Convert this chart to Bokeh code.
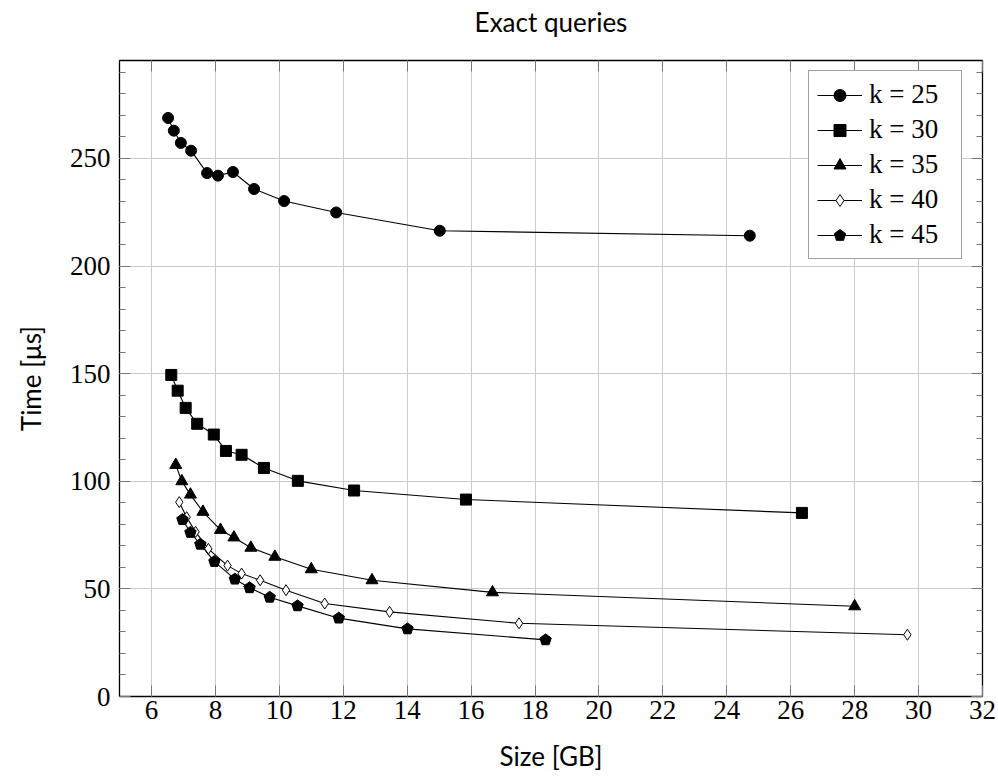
import math
from bokeh.plotting import figure
from bokeh.models import (LinearAxis, FixedTicker, Range1d, Legend, LegendItem,
                          CustomJSTickFormatter, ColumnDataSource, Title)
from bokeh.embed import file_html
from bokeh.resources import INLINE

try:
    from bokeh.models import Ngon
    HAS_NGON = True
except ImportError:
    HAS_NGON = False

# ---------------- data ----------------
title_text = "Exact queries"
x_label = "Size [GB]"
y_label = "Time [μs]"
series_labels = ["k = 25", "k = 30", "k = 35", "k = 40", "k = 45"]
x_ticks = [6, 8, 10, 12, 14, 16, 18, 20, 22, 24, 26, 28, 30, 32]
y_ticks = [0, 50, 100, 150, 200, 250]

size_k25 = [6.52, 6.70, 6.92, 7.24, 7.74, 8.08, 8.55, 9.21, 10.15, 11.78, 15.02, 24.72]
time_k25 = [268.8, 262.9, 257.2, 253.6, 243.2, 242.0, 243.7, 235.8, 230.2, 224.9, 216.4, 214.1]

size_k30 = [6.62, 6.82, 7.07, 7.43, 7.95, 8.33, 8.82, 9.52, 10.58, 12.34, 15.84, 26.35]
time_k30 = [149.4, 142.1, 134.1, 126.7, 121.7, 114.1, 112.3, 106.2, 100.2, 95.7, 91.5, 85.3]

size_k35 = [6.76, 6.95, 7.22, 7.61, 8.16, 8.58, 9.11, 9.86, 11.00, 12.90, 16.67, 28.00]
time_k35 = [107.6, 100.0, 93.8, 85.8, 77.4, 73.9, 69.1, 64.9, 59.1, 54.0, 48.4, 41.9]

size_k40 = [6.87, 7.10, 7.38, 7.78, 8.38, 8.82, 9.40, 10.21, 11.42, 13.45, 17.50, 29.65]
time_k40 = [90.3, 83.3, 76.5, 68.6, 60.8, 57.1, 54.0, 49.4, 43.2, 39.3, 34.0, 28.7]

size_k45 = [6.97, 7.22, 7.53, 7.97, 8.61, 9.07, 9.70, 10.57, 11.86, 14.01, 18.33]
time_k45 = [82.2, 76.2, 70.7, 62.7, 54.5, 50.5, 46.1, 42.1, 36.4, 31.4, 26.3]

x_min, x_max = 5, 32
y_min, y_max = 0, 295.5

# ---------------- figure ----------------
SANS = "Lato"
SERIF = "Liberation Serif"

p = figure(width=998, height=781, output_backend="svg", toolbar_location=None,
           x_range=Range1d(x_min, x_max), y_range=Range1d(y_min, y_max),
           min_border_left=119, min_border_right=16, min_border_top=60,
           min_border_bottom=85, background_fill_color="white",
           border_fill_color="white")

p.outline_line_color = "black"
p.outline_line_width = 1.3

p.title.text = title_text
p.title.align = "center"
p.title.text_font = SANS
p.title.text_font_size = "26px"
p.title.text_font_style = "normal"
p.title.text_color = "black"
p.title.standoff = 0

TICK_COLOR = "#777777"

def style_axis(ax, show_labels):
    ax.axis_line_color = None
    ax.major_tick_in = 11
    ax.major_tick_out = 0
    ax.minor_tick_in = 6
    ax.minor_tick_out = 0
    ax.major_tick_line_color = TICK_COLOR
    ax.minor_tick_line_color = TICK_COLOR
    ax.major_label_text_font = SERIF
    ax.major_label_text_font_size = "27px"
    ax.major_label_text_color = "black"
    ax.axis_label_text_font = SANS
    ax.axis_label_text_font_size = "26px"
    ax.axis_label_text_font_style = "normal"
    ax.axis_label_text_color = "black"
    if not show_labels:
        ax.formatter = CustomJSTickFormatter(code="return ''")
        ax.major_label_standoff = 0

xticker = FixedTicker(ticks=x_ticks, minor_ticks=[])
yticker = FixedTicker(ticks=y_ticks, minor_ticks=list(range(0, 300, 10)))

xa = p.xaxis[0]
xa.ticker = xticker
xa.axis_label = x_label
xa.major_label_standoff = 4
xa.axis_label_standoff = 18
style_axis(xa, True)

ya = p.yaxis[0]
ya.ticker = yticker
ya.axis_label = y_label
ya.major_label_standoff = 9
ya.axis_label_standoff = 20
style_axis(ya, True)

top_axis = LinearAxis(ticker=xticker)
style_axis(top_axis, False)
p.add_layout(top_axis, "above")

# thin spacer between the title and the frame
spacer = Title(text=" ", text_font_size="1px", standoff=20)
p.add_layout(spacer, "above")

right_axis = LinearAxis(ticker=yticker)
style_axis(right_axis, False)
p.add_layout(right_axis, "right")

p.xgrid.ticker = xticker
p.ygrid.ticker = yticker
for g in (p.xgrid[0], p.ygrid[0]):
    g.grid_line_color = "#cccccc"
    g.grid_line_width = 1

LW = 1.1
items = []

r = p.line(size_k25, time_k25, line_color="black", line_width=LW)
m = p.scatter(size_k25, time_k25, marker="circle", size=11, fill_color="black", line_color="black")
items.append(LegendItem(label=series_labels[0], renderers=[r, m]))

r = p.line(size_k30, time_k30, line_color="black", line_width=LW)
m = p.scatter(size_k30, time_k30, marker="square", size=11, fill_color="black", line_color="black")
items.append(LegendItem(label=series_labels[1], renderers=[r, m]))

r = p.line(size_k35, time_k35, line_color="black", line_width=LW)
m = p.scatter(size_k35, time_k35, marker="triangle", size=12, fill_color="black", line_color="black")
items.append(LegendItem(label=series_labels[2], renderers=[r, m]))

r = p.line(size_k40, time_k40, line_color="black", line_width=LW)
m = p.scatter(size_k40, time_k40, marker="diamond", size=11, fill_color="white", line_color="black", line_width=1)
items.append(LegendItem(label=series_labels[3], renderers=[r, m]))

r = p.line(size_k45, time_k45, line_color="black", line_width=LW)
if HAS_NGON:
    src = ColumnDataSource(dict(x=size_k45, y=time_k45))
    m = p.add_glyph(src, Ngon(x="x", y="y", radius=6, radius_units="screen", n=5,
                              angle=0, fill_color="black", line_color="black"))
else:
    m = p.scatter(size_k45, time_k45, marker="hex", size=11, fill_color="black", line_color="black")
items.append(LegendItem(label=series_labels[4], renderers=[r, m]))

legend = Legend(items=items, location=(689, 437))
legend.label_text_font = SERIF
legend.label_text_font_size = "27px"
legend.label_text_font_style = "normal"
legend.label_text_color = "black"
legend.glyph_width = 45
legend.glyph_height = 30
legend.label_height = 30
legend.label_width = 84
legend.label_standoff = 7
legend.spacing = 4
legend.padding = 8
legend.margin = 0
legend.border_line_color = "#444444"
legend.border_line_width = 1.2
legend.background_fill_color = "white"
legend.background_fill_alpha = 1.0
p.add_layout(legend)

open("out.html", "w").write(file_html(p, INLINE))
